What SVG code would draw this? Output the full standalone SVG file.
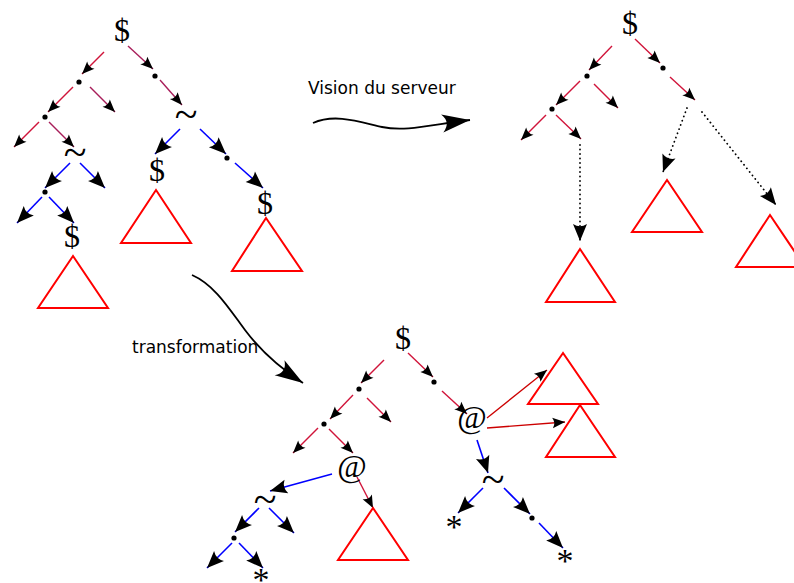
<svg xmlns="http://www.w3.org/2000/svg" width="794" height="583" viewBox="0 0 794 583">
<style>
.sym{font-family:"Liberation Serif","DejaVu Serif",serif;font-size:32px;fill:#000;text-anchor:middle}
.tl{font-size:42px}
.st{font-size:34px}
.lbl{font-family:"DejaVu Sans",sans-serif;font-size:17px;fill:#000}
.tri{fill:none;stroke:#ff0000;stroke-width:2}
.dot{fill:#000}
.r{stroke:#d0143a;stroke-width:1.4;fill:none;marker-end:url(#sm)}
.p{stroke:#a81e5a;stroke-width:1.4;fill:none;marker-end:url(#sm)}
.rr{stroke:#cc0000;stroke-width:1.3;fill:none;marker-end:url(#sm)}
.b{stroke:#0000ff;stroke-width:1.6;fill:none;marker-end:url(#bg)}
.d{stroke:#000;stroke-width:1.8;fill:none;stroke-dasharray:0.1 4.4;stroke-linecap:round;marker-end:url(#bg)}
.w{stroke:#000;stroke-width:1.8;fill:none;marker-end:url(#wv)}
</style>
<defs>
<marker id="sm" markerUnits="userSpaceOnUse" orient="auto" refX="0" refY="0" markerWidth="1" markerHeight="1" overflow="visible"><path d="M0,0 L-12.5,-5.2 Q-9,0 -12.5,5.2 Z" fill="#000"/></marker>
<marker id="bg" markerUnits="userSpaceOnUse" orient="auto" refX="0" refY="0" markerWidth="1" markerHeight="1" overflow="visible"><path d="M0,0 L-17,-7 Q-12.5,0 -17,7 Z" fill="#000"/></marker>
<marker id="wv" markerUnits="userSpaceOnUse" orient="auto" refX="0" refY="0" markerWidth="1" markerHeight="1" overflow="visible"><path d="M0,0 L-28,-9 Q-19,0 -28,9 Z" fill="#000"/></marker>
</defs>
<rect width="794" height="583" fill="#fff"/>

<g id="connectors">
<!-- top-left tree -->
<line class="r" x1="104" y1="52" x2="82" y2="74"/>
<line class="p" x1="128" y1="46" x2="153" y2="69"/>
<line class="p" x1="160" y1="80" x2="182" y2="105"/>
<line class="r" x1="73" y1="87" x2="48" y2="112"/>
<line class="p" x1="90" y1="87" x2="115" y2="112"/>
<line class="r" x1="39" y1="122" x2="14" y2="147"/>
<line class="p" x1="49" y1="122" x2="74" y2="147"/>
<line class="b" x1="70" y1="163" x2="45" y2="188"/>
<line class="b" x1="80" y1="163" x2="105" y2="188"/>
<line class="b" x1="42" y1="197" x2="17" y2="223"/>
<line class="b" x1="49" y1="197" x2="74" y2="223"/>
<line class="b" x1="180" y1="129" x2="155" y2="154"/>
<line class="b" x1="200" y1="129" x2="226" y2="154"/>
<line class="b" x1="235" y1="163" x2="263" y2="188"/>
<!-- top-right tree -->
<line class="r" x1="612" y1="46" x2="589" y2="70"/>
<line class="r" x1="635" y1="39" x2="660" y2="63"/>
<line class="r" x1="670" y1="77" x2="695" y2="100"/>
<line class="r" x1="580" y1="81" x2="556" y2="105"/>
<line class="r" x1="594" y1="84" x2="618" y2="108"/>
<line class="r" x1="546" y1="115" x2="521" y2="140"/>
<line class="r" x1="556" y1="115" x2="581" y2="139"/>
<line class="d" x1="580" y1="145" x2="580" y2="241"/>
<line class="d" x1="687" y1="108" x2="663" y2="172"/>
<line class="d" x1="702" y1="112" x2="776" y2="205"/>
<!-- bottom tree -->
<line class="r" x1="384" y1="360" x2="361" y2="383"/>
<line class="r" x1="408" y1="353" x2="433" y2="377"/>
<line class="r" x1="442" y1="391" x2="467" y2="414"/>
<line class="r" x1="353" y1="395" x2="330" y2="419"/>
<line class="r" x1="367" y1="398" x2="391" y2="422"/>
<line class="r" x1="318" y1="428" x2="293" y2="453"/>
<line class="r" x1="329" y1="429" x2="353" y2="453"/>
<line class="r" x1="357" y1="477" x2="373" y2="508"/>
<line class="b" x1="332" y1="474" x2="270" y2="491"/>
<line class="b" x1="259" y1="508" x2="235" y2="532"/>
<line class="b" x1="269" y1="508" x2="294" y2="533"/>
<line class="b" x1="232" y1="543" x2="207" y2="568"/>
<line class="b" x1="239" y1="543" x2="263" y2="568"/>
<line class="rr" x1="487" y1="418" x2="547" y2="370"/>
<line class="rr" x1="487" y1="428" x2="565" y2="422"/>
<line class="b" x1="477" y1="440" x2="488" y2="473"/>
<line class="b" x1="483" y1="488" x2="458" y2="513"/>
<line class="b" x1="504" y1="488" x2="530" y2="514"/>
<line class="b" x1="539" y1="523" x2="563" y2="548"/>
<!-- big wavy arrows -->
<path class="w" d="M313,123 C335,113 360,122 382,127 C405,132 430,125 470,120"/>
<path class="w" d="M192,275 C215,285 230,310 245,330 C260,350 280,368 303,383"/>
</g>

<g id="labels">
<text class="lbl" x="308" y="94">Vision du serveur</text>
<text class="lbl" x="132" y="353">transformation</text>
</g>

<g id="tl-root"><text class="sym" x="122" y="41">$</text></g>
<g id="tl-dot1"><circle class="dot" cx="79" cy="82" r="2.6"/></g>
<g id="tl-dot2"><circle class="dot" cx="155" cy="76" r="2.6"/></g>
<g id="tl-tilde1"><text class="sym tl" x="186" y="128">~</text></g>
<g id="tl-dot3"><circle class="dot" cx="45" cy="117" r="2.6"/></g>
<g id="tl-tilde2"><text class="sym tl" x="75" y="166">~</text></g>
<g id="tl-dot4"><circle class="dot" cx="45" cy="192" r="2.6"/></g>
<g id="tl-dollar1"><text class="sym" x="72" y="247">$</text></g>
<g id="tl-tri1"><polygon class="tri" points="73,256 38,308 108,308"/></g>
<g id="tl-dollar2"><text class="sym" x="157" y="181">$</text></g>
<g id="tl-tri2"><polygon class="tri" points="156,190 121,243 191,243"/></g>
<g id="tl-dot5"><circle class="dot" cx="227" cy="158" r="2.6"/></g>
<g id="tl-dollar3"><text class="sym" x="265" y="214">$</text></g>
<g id="tl-tri3"><polygon class="tri" points="266,218 232,271 302,271"/></g>

<g id="tr-root"><text class="sym" x="630" y="34">$</text></g>
<g id="tr-dot1"><circle class="dot" cx="587" cy="76" r="2.6"/></g>
<g id="tr-dot2"><circle class="dot" cx="663" cy="68" r="2.6"/></g>
<g id="tr-dot3"><circle class="dot" cx="552" cy="109" r="2.6"/></g>
<g id="tr-tri1"><polygon class="tri" points="580,249 546,302 615,302"/></g>
<g id="tr-tri2"><polygon class="tri" points="667,180 632,232 702,232"/></g>
<g id="tr-tri3"><polygon class="tri" points="770,215 736,267 805,267"/></g>

<g id="b-root"><text class="sym" x="403" y="349">$</text></g>
<g id="b-dot1"><circle class="dot" cx="359" cy="389" r="2.6"/></g>
<g id="b-dot2"><circle class="dot" cx="434" cy="382" r="2.6"/></g>
<g id="b-dot3"><circle class="dot" cx="324" cy="424" r="2.6"/></g>
<g id="b-at1"><text class="sym" x="352" y="477">@</text></g>
<g id="b-tri1"><polygon class="tri" points="373,508 338,560 408,560"/></g>
<g id="b-tilde1"><text class="sym tl" x="265" y="513">~</text></g>
<g id="b-dot4"><circle class="dot" cx="234" cy="538" r="2.6"/></g>
<g id="b-star1"><text class="sym st" x="261" y="591">*</text></g>
<g id="b-at2"><text class="sym" x="472" y="428">@</text></g>
<g id="b-tri2"><polygon class="tri" points="563,353 528,404 598,404"/></g>
<g id="b-tri3"><polygon class="tri" points="580,405 546,457 615,457"/></g>
<g id="b-tilde2"><text class="sym tl" x="493" y="493">~</text></g>
<g id="b-star2"><text class="sym st" x="454" y="538">*</text></g>
<g id="b-dot5"><circle class="dot" cx="532" cy="518" r="2.6"/></g>
<g id="b-star3"><text class="sym st" x="565" y="572">*</text></g>
</svg>
